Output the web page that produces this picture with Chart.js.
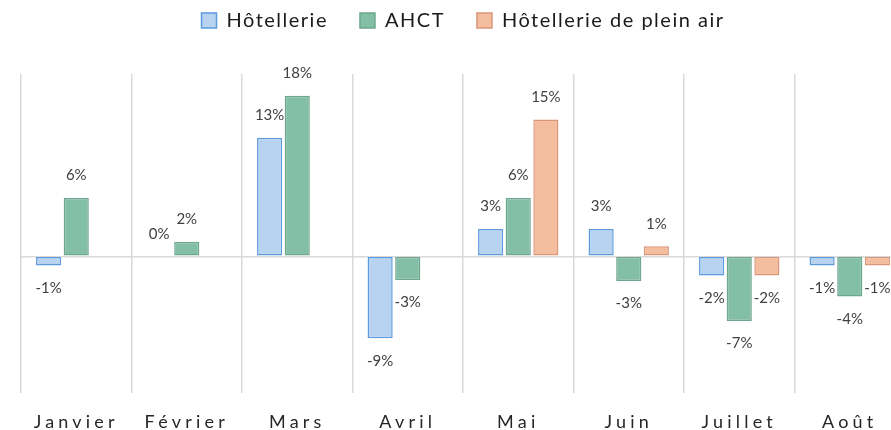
<!DOCTYPE html>
<html>
<head>
<meta charset="utf-8">
<script src="https://cdn.jsdelivr.net/npm/chart.js@4"></script>
<style>
html,body{margin:0;padding:0;background:#fff;overflow:hidden;}
#wrap{width:940px;height:430px;}
</style>
</head>
<body>
<div id="wrap"><canvas id="c" width="940" height="430"></canvas></div>
<script>
const categories = ['Janvier','Février','Mars','Avril','Mai','Juin','Juillet','Août'];
const seriesNames = ['Hôtellerie','AHCT','Hôtellerie de plein air'];
const hotellerie = [-1.0, 0.0, 13.0, -9.0, 3.0, 3.0, -2.1, -1.0];
const ahct = [6.4, 1.6, 17.6, -2.6, 6.4, -2.7, -7.1, -4.4];
const hpa = [null, null, null, null, 15.0, 1.1, -2.1, -1.0];
const yMin = -15, yMax = 20;

const FONT = 'Lato, "Open Sans", sans-serif';

function withSpacing(obj, name, spacing) {
  const orig = obj[name];
  obj[name] = function(...args) {
    const c = this.ctx; c.save(); c.letterSpacing = spacing;
    const r = orig.apply(this, args);
    c.restore();
    return r;
  };
}

const spacingPlugin = {
  id: 'spacingPlugin',
  beforeLayout(chart) {
    const lg = chart.legend;
    if (lg && !lg._patched) {
      const f = lg.fit;
      lg.fit = function() {
        const c = this.ctx; c.save(); c.letterSpacing = '1.5px';
        f.call(this);
        c.restore();
        this.height = 95.5;
      };
      withSpacing(lg, 'draw', '1.5px');
      lg._patched = true;
    }
  },
  afterLayout(chart) {
    const xs = chart.scales.x;
    if (xs && !xs._patched) {
      withSpacing(xs, 'drawLabels', '4.2px');
      xs._patched = true;
    }
  }
};

const valueLabels = {
  id: 'valueLabels',
  afterDatasetsDraw(chart) {
    const ctx = chart.ctx;
    ctx.save();
    ctx.font = '15px ' + FONT;
    ctx.fillStyle = '#404040';
    ctx.textAlign = 'center';
    ctx.textBaseline = 'middle';
    chart.data.datasets.forEach((ds, di) => {
      const meta = chart.getDatasetMeta(di);
      meta.data.forEach((bar, i) => {
        const v = ds.data[i];
        if (v === null || v === undefined) return;
        const y = v >= 0 ? bar.y - 22.5 : bar.y + 22.5;
        ctx.fillText(Math.round(v) + '%', bar.x, y);
      });
    });
    ctx.restore();
  }
};

new Chart(document.getElementById('c'), {
  type: 'bar',
  data: {
    labels: categories,
    datasets: [
      { label: seriesNames[0], data: hotellerie, backgroundColor: '#B7D3F0', borderColor: '#5B9BDE', borderWidth: 1.5, borderSkipped: false },
      { label: seriesNames[1], data: ahct, backgroundColor: '#83BEA7', borderColor: '#6FA68F', borderWidth: 1.5, borderSkipped: false },
      { label: seriesNames[2], data: hpa, backgroundColor: '#F4BD9D', borderColor: '#D8977A', borderWidth: 1.5, borderSkipped: false }
    ]
  },
  options: {
    responsive: false,
    animation: false,
    devicePixelRatio: 1,
    categoryPercentage: 0.75,
    barPercentage: 0.91,
    layout: { padding: { top: -21.5, left: 21, right: 35, bottom: 0 } },
    plugins: {
      legend: {
        position: 'top',
        labels: {
          boxWidth: 15, boxHeight: 15, padding: 32,
          color: '#1a1a1a',
          font: { family: FONT, size: 20 }
        }
      },
      tooltip: { enabled: false }
    },
    scales: {
      x: {
        grid: { display: true, offset: true, color: '#D9D9D9', lineWidth: 1.5, drawTicks: false },
        border: { display: false },
        ticks: { color: '#262626', padding: 18, font: { family: FONT, size: 18 } },
        afterFit(s) { s.height = 37; }
      },
      y: {
        min: yMin, max: yMax,
        z: 1,
        grid: { color: (c) => c.tick && c.tick.value === 0 ? '#D9D9D9' : 'rgba(0,0,0,0)', lineWidth: 1.5, drawTicks: false },
        border: { display: false },
        ticks: { display: false, stepSize: 5 },
        afterFit(s) { s.width = 0; }
      }
    }
  },
  plugins: [spacingPlugin, valueLabels]
});
</script>
</body>
</html>
